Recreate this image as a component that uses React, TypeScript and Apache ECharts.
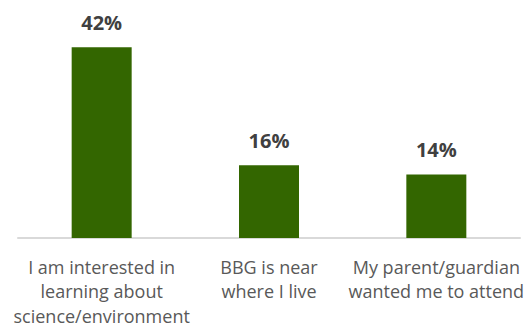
import React, { useEffect, useRef } from "react";
import * as echarts from "echarts";

const categories = [
  "I am interested in\nlearning about\nscience/environment",
  "BBG is near\nwhere I live",
  "My parent/guardian\nwanted me to attend",
];
const values = [42, 16, 14];

export default function App() {
  const ref = useRef<HTMLDivElement>(null);
  useEffect(() => {
    if (!ref.current) return;
    const chart = echarts.init(ref.current, null, { renderer: "svg" });
    chart.setOption({
      animation: false,
      grid: { left: 18, right: 10, top: 11, bottom: 90, containLabel: false, outerBoundsMode: "none" },
      xAxis: {
        type: "category",
        data: categories,
        axisLine: { show: true, lineStyle: { color: "#d9d9d9", width: 2 } },
        axisTick: { show: false },
        axisLabel: {
          interval: 0,
          margin: 17,
          color: "#595959",
          fontFamily: "Open Sans",
          fontSize: 18,
          lineHeight: 24.3,
        },
      },
      yAxis: {
        type: "value",
        min: 0,
        max: 50,
        show: false,
        splitLine: { show: false },
      },
      series: [
        {
          type: "bar",
          data: values,
          barWidth: 60,
          itemStyle: { color: "#336600" },
          label: {
            show: true,
            position: "top",
            distance: 15,
            formatter: "{c}%",
            color: "#404040",
            fontFamily: "Open Sans",
            fontWeight: "bold",
            fontSize: 20,
            lineHeight: 20,
          },
        },
      ],
    });
    return () => chart.dispose();
  }, []);
  return (
    <div
      ref={ref}
      style={{ position: "fixed", left: 0, top: 0, width: 530, height: 328, background: "#fff" }}
    />
  );
}
